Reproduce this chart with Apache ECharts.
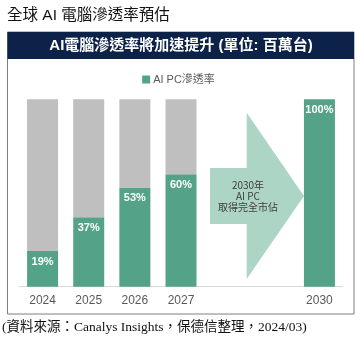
<!DOCTYPE html>
<html>
<head>
<meta charset="utf-8">
<script src="https://cdn.jsdelivr.net/npm/echarts@6/dist/echarts.min.js"></script>
<style>
  html, body { margin: 0; padding: 0; background: #fff; }
  #chart { width: 357px; height: 338px; }
</style>
</head>
<body>
<div id="chart"></div>
<script>
// Years on the axis; 2028 and 2029 keep their slots but show no label or bar.
const years = ['2024', '2025', '2026', '2027', '2028', '2029', '2030'];
const yearLabels = ['2024', '2025', '2026', '2027', '', '', '2030'];
// AI PC penetration (%)
const aiPcShare = [19, 37, 53, 60, null, null, 100];
// Remaining share, drawn as the grey part of each column
const restShare = aiPcShare.map(v => (v == null ? null : 100 - v));

const GREEN = '#54a388';
const GREY = '#bfbfbf';
const SANS = 'Arial, "Liberation Sans", "Noto Sans CJK TC", sans-serif';

const chart = echarts.init(document.getElementById('chart'), null, { renderer: 'canvas' });

chart.setOption({
  animation: false,
  textStyle: { fontFamily: SANS },
  title: [
    {
      text: '全球 AI 電腦滲透率預估',
      left: 2, top: 3,
      textStyle: { fontSize: 15.5, fontWeight: 'normal', color: '#111', fontFamily: SANS }
    }
  ],
  legend: {
    data: [{ name: 'AI PC滲透率', icon: 'rect' }],
    top: 69, left: 'center',
    itemWidth: 8, itemHeight: 8, itemGap: 4,
    textStyle: { fontSize: 11, color: '#595959', padding: [0, 0, 0, -2] }
  },
  grid: { left: 19.5, right: 14.5, top: 99.3, bottom: 51.3 },
  xAxis: {
    type: 'category',
    data: years,
    axisLine: { lineStyle: { color: '#d9d9d9' } },
    axisTick: { show: false },
    axisLabel: {
      color: '#595959', fontSize: 12, margin: 8,
      formatter: (v, i) => yearLabels[i]
    }
  },
  yAxis: { type: 'value', min: 0, max: 100, show: false },
  series: [
    {
      name: 'AI PC滲透率',
      type: 'bar',
      stack: 'share',
      data: aiPcShare,
      barWidth: 31,
      itemStyle: { color: GREEN },
      label: {
        show: true,
        position: 'insideTop',
        distance: 5,
        formatter: p => p.value + '%',
        color: '#fff', fontSize: 11, fontWeight: 'bold'
      }
    },
    {
      name: 'rest',
      type: 'bar',
      stack: 'share',
      data: restShare,
      barWidth: 31,
      itemStyle: { color: GREY },
      silent: true
    }
  ],
  graphic: [
    // outer frame
    {
      type: 'rect', z: 0,
      shape: { x: 7.5, y: 32, width: 346.5, height: 282 },
      style: { fill: 'none', stroke: '#7f7f7f', lineWidth: 1 }
    },
    // header band
    {
      type: 'rect', z: 1,
      shape: { x: 7.5, y: 32, width: 346.5, height: 27 },
      style: { fill: '#0c2249' }
    },
    {
      type: 'text', z: 2,
      x: 181, y: 46,
      style: {
        text: 'AI電腦滲透率將加速提升 (單位: 百萬台)',
        fill: '#fff', fontSize: 15, fontWeight: 'bold',
        align: 'center', verticalAlign: 'middle',
        fontFamily: SANS
      }
    },
    // arrow between 2027 and 2030
    {
      type: 'polygon', z: 1,
      shape: {
        points: [
          [210, 168], [246.7, 168], [246.7, 112.7], [304, 196],
          [246.7, 279], [246.7, 224], [210, 224]
        ]
      },
      style: { fill: '#acd5c6' }
    },
    {
      type: 'text', z: 2,
      x: 248, y: 196,
      style: {
        text: '2030年\nAI PC\n取得完全市佔',
        fill: '#404040', fontSize: 10, lineHeight: 11,
        align: 'center', verticalAlign: 'middle',
        fontFamily: '"Noto Sans CJK TC", "Noto Sans", sans-serif'
      }
    },
    // source note
    {
      type: 'text', z: 2,
      x: 2, y: 327,
      style: {
        text: '(資料來源：Canalys Insights，保德信整理，2024/03)',
        fill: '#111', fontSize: 13.5,
        verticalAlign: 'middle',
        fontFamily: '"Liberation Serif", "DejaVu Serif", "Noto Sans CJK TC", serif'
      }
    }
  ]
});
</script>
</body>
</html>
